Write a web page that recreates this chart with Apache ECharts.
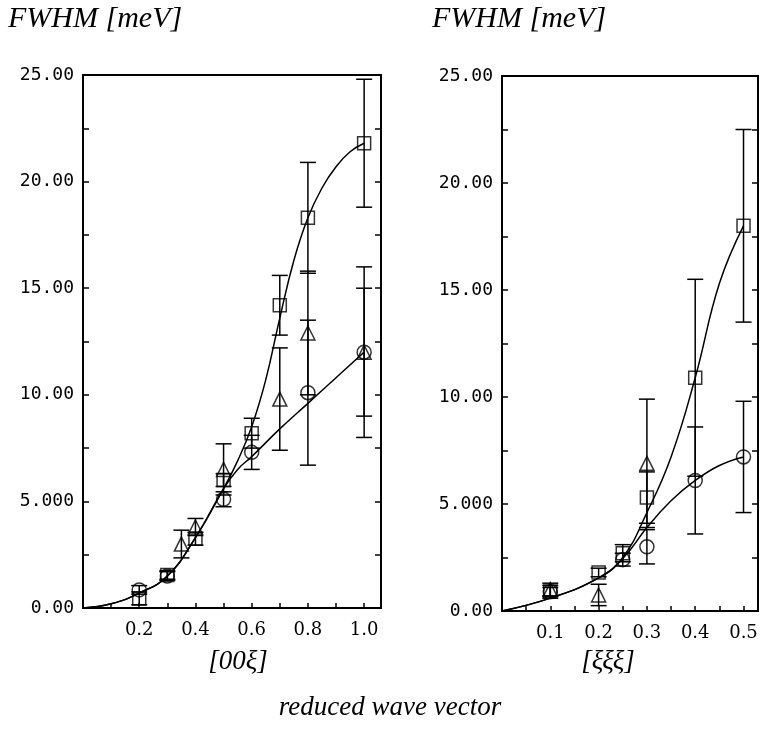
<!DOCTYPE html>
<html>
<head>
<meta charset="utf-8">
<title>FWHM vs reduced wave vector</title>
<script src="https://cdn.jsdelivr.net/npm/echarts@6.0.0/dist/echarts.min.js"></script>
<style>
  html, body { margin: 0; padding: 0; background: #fff; }
  #main { width: 762px; height: 729px; }
</style>
</head>
<body>
<div id="main"></div>
<script>
// y tick labels (same on both panels, printed as in the original plot)
var yTickLabels = ['0.00', '5.000', '10.00', '15.00', '20.00', '25.00']

// [00ξ] panel : [q, FWHM] and the error of each point
var sq00 = [[0.2, 0.45], [0.3, 1.55], [0.4, 3.25], [0.5, 6.0], [0.6, 8.2], [0.7, 14.2], [0.8, 18.3], [1.0, 21.8]]
var sq00Err = [0.3, 0.2, 0.3, 0.3, 0.7, 1.4, 2.6, 3.0]
var tri00 = [[0.35, 3.0], [0.4, 3.8], [0.5, 6.5], [0.7, 9.8], [0.8, 12.9], [1.0, 12.0]]
var tri00Err = [0.65, 0.4, 1.2, 2.4, 2.9, 3.0]
var cir00 = [[0.2, 0.85], [0.3, 1.5], [0.5, 5.1], [0.6, 7.3], [0.8, 10.1], [1.0, 12.0]]
var cir00Err = [0.2, 0.2, 0.35, 0.8, 3.4, 4.0]
// guide curves
var fitUp00 = [[0, 0], [0.1, 0.2], [0.2, 0.7], [0.3, 1.5], [0.4, 3.3], [0.5, 5.6], [0.55, 6.9], [0.6, 8.5],
  [0.65, 10.7], [0.7, 13.6], [0.75, 16.3], [0.8, 18.3], [0.85, 19.7], [0.9, 20.7], [0.95, 21.4], [1.0, 21.8]]
var fitLow00 = [[0, 0], [0.1, 0.2], [0.2, 0.7], [0.3, 1.5], [0.4, 3.3], [0.5, 5.6], [0.55, 6.5], [0.6, 7.1],
  [0.7, 8.4], [0.8, 9.6], [0.9, 10.8], [1.0, 12.0]]

// [ξξξ] panel
var sq111 = [[0.1, 0.9], [0.2, 1.8], [0.25, 2.7], [0.3, 5.3], [0.4, 10.9], [0.5, 18.0]]
var sq111Err = [0.3, 0.2, 0.4, 1.2, 4.6, 4.5]
var tri111 = [[0.1, 1.0], [0.2, 0.75], [0.3, 6.9]]
var tri111Err = [0.3, 0.5, 3.0]
var cir111 = [[0.1, 0.9], [0.25, 2.4], [0.3, 3.0], [0.4, 6.1], [0.5, 7.2]]
var cir111Err = [0.2, 0.3, 0.8, 2.5, 2.6]
var fitUp111 = [[0, 0], [0.1, 0.6], [0.2, 1.55], [0.25, 2.5], [0.3, 4.6], [0.35, 7.2], [0.4, 10.9],
  [0.45, 15.3], [0.5, 18.0]]
var fitLow111 = [[0, 0], [0.1, 0.6], [0.2, 1.55], [0.25, 2.45], [0.3, 3.9], [0.35, 5.15], [0.4, 6.1],
  [0.45, 6.8], [0.5, 7.2]]

var tickFont = { fontFamily: 'DejaVu Sans Mono', fontSize: 18, color: '#000' }
var xFont = { fontFamily: 'DejaVu Serif', fontSize: 18, color: '#000' }
var textFont = 'Liberation Serif'

function withErr (pts, err) {
  return pts.map(function (p, i) { return [p[0], p[1], err[i]] })
}

// vertical error bar with caps
function errorBar (params, api) {
  var x = api.value(0)
  var y = api.value(1)
  var e = api.value(2)
  var hi = api.coord([x, y + e])
  var lo = api.coord([x, y - e])
  var w = 8
  var st = { stroke: '#000', lineWidth: 1.5 }
  return {
    type: 'group',
    children: [
      { type: 'line', shape: { x1: hi[0], y1: hi[1], x2: lo[0], y2: lo[1] }, style: st },
      { type: 'line', shape: { x1: hi[0] - w, y1: hi[1], x2: hi[0] + w, y2: hi[1] }, style: st },
      { type: 'line', shape: { x1: lo[0] - w, y1: lo[1], x2: lo[0] + w, y2: lo[1] }, style: st }
    ]
  }
}

function panel (i, sq, sqE, tri, triE, cir, cirE, up, low) {
  var hollow = { color: 'rgba(0,0,0,0)', borderColor: '#000', borderWidth: 1.5 }
  var line = { color: '#000', width: 1.5 }
  var base = { xAxisIndex: i, yAxisIndex: i * 2, silent: true, animation: false }
  return [
    Object.assign({ type: 'line', data: up, smooth: 0.45, symbol: 'none', lineStyle: line }, base),
    Object.assign({ type: 'line', data: low, smooth: 0.45, symbol: 'none', lineStyle: line }, base),
    Object.assign({ type: 'custom', renderItem: errorBar, data: withErr(sq, sqE) }, base),
    Object.assign({ type: 'custom', renderItem: errorBar, data: withErr(tri, triE) }, base),
    Object.assign({ type: 'custom', renderItem: errorBar, data: withErr(cir, cirE) }, base),
    Object.assign({ type: 'scatter', data: sq, symbol: 'rect', symbolSize: 13, itemStyle: hollow }, base),
    Object.assign({ type: 'scatter', data: tri, symbol: 'triangle', symbolSize: 14, itemStyle: hollow }, base),
    Object.assign({ type: 'scatter', data: cir, symbol: 'circle', symbolSize: 14, itemStyle: hollow }, base)
  ]
}

function xAxis (i, max, step) {
  return {
    type: 'value', gridIndex: i, min: 0, max: max, interval: step,
    axisLine: { lineStyle: { color: '#000', width: 2 } },
    axisTick: { inside: true, length: 5, lineStyle: { color: '#000', width: 1.5 } },
    splitLine: { show: false },
    axisLabel: {
      margin: 13,
      formatter: function (v) {
        var t = Math.round(v * 10)
        if (v <= 0 || Math.abs(v * 10 - t) > 1e-6 || v > max - 0.02) return ''
        if (i === 0 && t % 2 !== 0) return ''
        return (t / 10).toFixed(1)
      },
      textStyle: xFont
    }
  }
}

function yAxes (i) {
  var common = {
    type: 'value', gridIndex: i, min: 0, max: 25, interval: 2.5,
    axisLine: { show: true, lineStyle: { color: '#000', width: 2 } },
    axisTick: { inside: true, length: 6, lineStyle: { color: '#000', width: 1.5 } },
    splitLine: { show: false }
  }
  return [
    Object.assign({}, common, {
      position: 'left',
      axisLabel: {
        margin: 9,
        formatter: function (v) { return v % 5 === 0 ? yTickLabels[v / 5] : '' },
        textStyle: tickFont
      }
    }),
    Object.assign({}, common, { position: 'right', axisLabel: { show: false } })
  ]
}

function label (text, x, y, size, align) {
  return {
    type: 'text', x: x, y: y, silent: true,
    style: {
      text: text, fontFamily: textFont, fontStyle: 'italic', fontSize: size,
      fill: '#000', align: align, verticalAlign: 'middle'
    }
  }
}

var chart = echarts.init(document.getElementById('main'))
chart.setOption({
  backgroundColor: '#fff',
  animation: false,
  grid: [
    { left: 83, top: 75, width: 298, height: 533, show: true, borderColor: '#000', borderWidth: 2 },
    { left: 502, top: 76, width: 256, height: 535, show: true, borderColor: '#000', borderWidth: 2 }
  ],
  xAxis: [xAxis(0, 1.06, 0.1), xAxis(1, 0.53, 0.05)],
  yAxis: yAxes(0).concat(yAxes(1)),
  graphic: [
    label('FWHM [meV]', 8, 19, 30, 'left'),
    label('FWHM [meV]', 432, 19, 30, 'left'),
    label('[00ξ]', 238, 662, 27, 'center'),
    label('[ξξξ]', 608, 662, 27, 'center'),
    label('reduced wave vector', 390, 708, 27, 'center')
  ],
  series: panel(0, sq00, sq00Err, tri00, tri00Err, cir00, cir00Err, fitUp00, fitLow00)
    .concat(panel(1, sq111, sq111Err, tri111, tri111Err, cir111, cir111Err, fitUp111, fitLow111))
})
</script>
</body>
</html>
